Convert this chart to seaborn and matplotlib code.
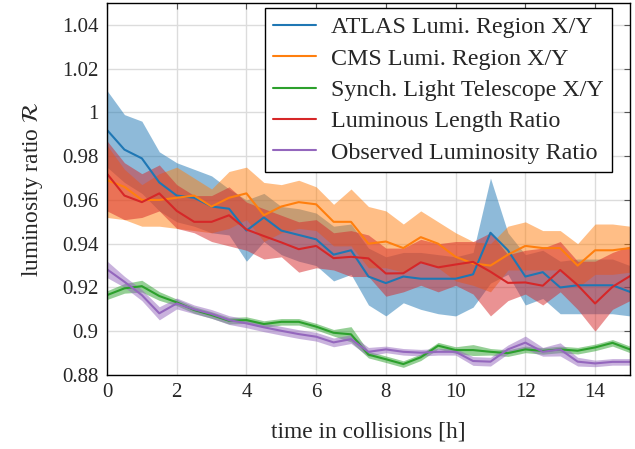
import matplotlib
matplotlib.use("Agg")
import matplotlib.pyplot as plt
import seaborn as sns
import numpy as np
import pandas as pd
from matplotlib.ticker import FuncFormatter, MultipleLocator

# ---------------------------------------------
# Datos
# ---------------------------------------------
hours = [i * 0.5 for i in range(31)]

atlas = [0.992, 0.983, 0.979, 0.968, 0.962, 0.961, 0.957, 0.956, 0.946, 0.952, 0.946,
         0.944, 0.942, 0.935, 0.937, 0.925, 0.922, 0.925, 0.924, 0.924, 0.924, 0.926,
         0.945, 0.937, 0.925, 0.927, 0.920, 0.921, 0.921, 0.921, 0.918]
atlas_hi = [1.010, 0.999, 0.996, 0.982, 0.977, 0.974, 0.971, 0.965, 0.960, 0.963, 0.957,
            0.956, 0.954, 0.948, 0.949, 0.938, 0.934, 0.936, 0.936, 0.935, 0.934, 0.936,
            0.970, 0.945, 0.935, 0.937, 0.932, 0.933, 0.933, 0.933, 0.930]
atlas_lo = [0.975, 0.968, 0.963, 0.955, 0.950, 0.948, 0.945, 0.944, 0.932, 0.941, 0.935,
            0.932, 0.930, 0.923, 0.926, 0.912, 0.907, 0.913, 0.910, 0.908, 0.907, 0.911,
            0.922, 0.926, 0.912, 0.915, 0.908, 0.908, 0.908, 0.908, 0.907]

cms = [0.969, 0.966, 0.960, 0.960, 0.961, 0.962, 0.957, 0.961, 0.963, 0.953, 0.957,
       0.959, 0.958, 0.950, 0.950, 0.940, 0.941, 0.938, 0.943, 0.940, 0.934, 0.931,
       0.930, 0.935, 0.939, 0.938, 0.938, 0.930, 0.937, 0.937, 0.938]
cms_hi = [0.985, 0.974, 0.967, 0.972, 0.975, 0.970, 0.965, 0.973, 0.975, 0.968, 0.967,
          0.969, 0.966, 0.958, 0.965, 0.957, 0.955, 0.949, 0.955, 0.950, 0.945, 0.941,
          0.940, 0.948, 0.950, 0.946, 0.946, 0.940, 0.949, 0.949, 0.948]
cms_lo = [0.952, 0.951, 0.948, 0.948, 0.947, 0.946, 0.945, 0.947, 0.951, 0.941, 0.945,
          0.947, 0.946, 0.939, 0.939, 0.929, 0.929, 0.927, 0.932, 0.929, 0.923, 0.921,
          0.918, 0.928, 0.928, 0.928, 0.928, 0.920, 0.926, 0.926, 0.927]

slt = [0.9165, 0.9196, 0.9206, 0.9161, 0.9132, 0.9097, 0.9074, 0.9048, 0.9051, 0.9033,
       0.9043, 0.9043, 0.9021, 0.8993, 0.8986, 0.8893, 0.8872, 0.8850, 0.8881, 0.8934,
       0.8914, 0.8914, 0.8906, 0.8900, 0.8917, 0.8910, 0.8917, 0.8911, 0.8926, 0.8947,
       0.8917]
slt_err = [0.0020, 0.0022, 0.0027, 0.0020, 0.0015, 0.0015, 0.0015, 0.0015, 0.0015, 0.0015,
           0.0015, 0.0015, 0.0015, 0.0015, 0.0035, 0.0015, 0.0015, 0.0015, 0.0015, 0.0015,
           0.0015, 0.0025, 0.0015, 0.0015, 0.0015, 0.0015, 0.0015, 0.0015, 0.0015, 0.0015,
           0.0015]

lumlen = [0.972, 0.962, 0.959, 0.963, 0.955, 0.950, 0.950, 0.953, 0.9465, 0.9435, 0.9406,
          0.9375, 0.939, 0.9334, 0.934, 0.9333, 0.9264, 0.9265, 0.9315, 0.9292, 0.9305,
          0.9317, 0.9272, 0.9221, 0.9223, 0.9208, 0.928, 0.9211, 0.9127, 0.9203, 0.9252]
lumlen_hi = [0.987, 0.977, 0.972, 0.976, 0.967, 0.962, 0.962, 0.966, 0.959, 0.956, 0.953,
             0.950, 0.951, 0.945, 0.946, 0.944, 0.938, 0.938, 0.942, 0.940, 0.941, 0.941,
             0.945, 0.935, 0.937, 0.938, 0.941, 0.932, 0.932, 0.936, 0.939]
lumlen_lo = [0.955, 0.951, 0.952, 0.955, 0.947, 0.945, 0.941, 0.939, 0.937, 0.933, 0.934,
             0.927, 0.929, 0.928, 0.925, 0.925, 0.916, 0.918, 0.921, 0.918, 0.921, 0.917,
             0.907, 0.914, 0.917, 0.912, 0.918, 0.910, 0.900, 0.910, 0.914]

obs = [0.9283, 0.9226, 0.9165, 0.9082, 0.9127, 0.9100, 0.9079, 0.9051, 0.9036, 0.9018,
       0.9002, 0.8987, 0.8975, 0.8949, 0.8964, 0.8906, 0.8917, 0.8906, 0.8902, 0.8906,
       0.8906, 0.8864, 0.8861, 0.8917, 0.8948, 0.8906, 0.8917, 0.8861, 0.8853, 0.8860,
       0.8860]
obs_err = [0.0038, 0.0025, 0.0025, 0.0030, 0.0025, 0.0020, 0.0020, 0.0020, 0.0020, 0.0020,
           0.0020, 0.0020, 0.0020, 0.0020, 0.0020, 0.0020, 0.0015, 0.0015, 0.0015, 0.0015,
           0.0015, 0.0020, 0.0020, 0.0020, 0.0030, 0.0020, 0.0030, 0.0020, 0.0015, 0.0015,
           0.0015]

labels = ["ATLAS Lumi. Region X/Y", "CMS Lumi. Region X/Y", "Synch. Light Telescope X/Y",
          "Luminous Length Ratio", "Observed Luminosity Ratio"]
colors = ["#1f77b4", "#ff7f0e", "#2ca02c", "#d62728", "#9467bd"]

series = [
    (atlas, atlas_lo, atlas_hi),
    (cms, cms_lo, cms_hi),
    (slt, [m - e for m, e in zip(slt, slt_err)], [m + e for m, e in zip(slt, slt_err)]),
    (lumlen, lumlen_lo, lumlen_hi),
    (obs, [m - e for m, e in zip(obs, obs_err)], [m + e for m, e in zip(obs, obs_err)]),
]

rows = []
for lab, (mean, lo, hi) in zip(labels, series):
    for t, m, l, h in zip(hours, mean, lo, hi):
        rows.append({"t": t, "ratio": m, "lo": l, "hi": h, "serie": lab})
df = pd.DataFrame(rows)

# ---------------------------------------------
# Estilo
# ---------------------------------------------
sns.set_style("whitegrid")
plt.rcParams["font.family"] = ["Liberation Serif", "DejaVu Serif"]
plt.rcParams["mathtext.fontset"] = "stix"

fig = plt.figure(figsize=(6.35, 4.49), dpi=100)
ax = fig.add_axes([0.1685, 0.1648, 0.8235, 0.8285])

for lab, col in zip(labels, colors):
    sub = df[df["serie"] == lab]
    ax.fill_between(sub["t"], sub["lo"], sub["hi"], color=col, alpha=0.5, linewidth=0)

sns.lineplot(data=df, x="t", y="ratio", hue="serie", hue_order=labels,
             palette=colors, linewidth=1.5, ax=ax, legend=False)

ax.set_xlim(0, 15)
ax.set_ylim(0.88, 1.05)
ax.xaxis.set_major_locator(MultipleLocator(2))
ax.yaxis.set_major_locator(MultipleLocator(0.02))
ax.yaxis.set_major_formatter(FuncFormatter(lambda v, p: "%g" % round(v, 3)))

ax.grid(True, color="#dcdcdc", linewidth=1.0)
for s in ax.spines.values():
    s.set_color("black")
    s.set_linewidth(1.0)
ax.tick_params(direction="in", length=4, width=0.8, color="#555555",
               top=True, right=True, labelsize=15, pad=6)

ax.set_xlabel("time in collisions [h]", fontsize=16.8, labelpad=14)
ax.set_ylabel(r"luminosity ratio $\mathcal{R}$", fontsize=16.8, labelpad=12)

handles = [plt.Line2D([], [], color=c, linewidth=1.5) for c in colors]
leg = ax.legend(handles, labels, loc="upper right", fontsize=17.3, frameon=True,
                fancybox=False, edgecolor="black", framealpha=1, handlelength=1.8,
                borderpad=0.35, labelspacing=0.4, handletextpad=0.6,
                borderaxespad=0, bbox_to_anchor=(0.965, 0.987))
leg.get_frame().set_linewidth(1.0)

fig.savefig("out.png", dpi=100)
